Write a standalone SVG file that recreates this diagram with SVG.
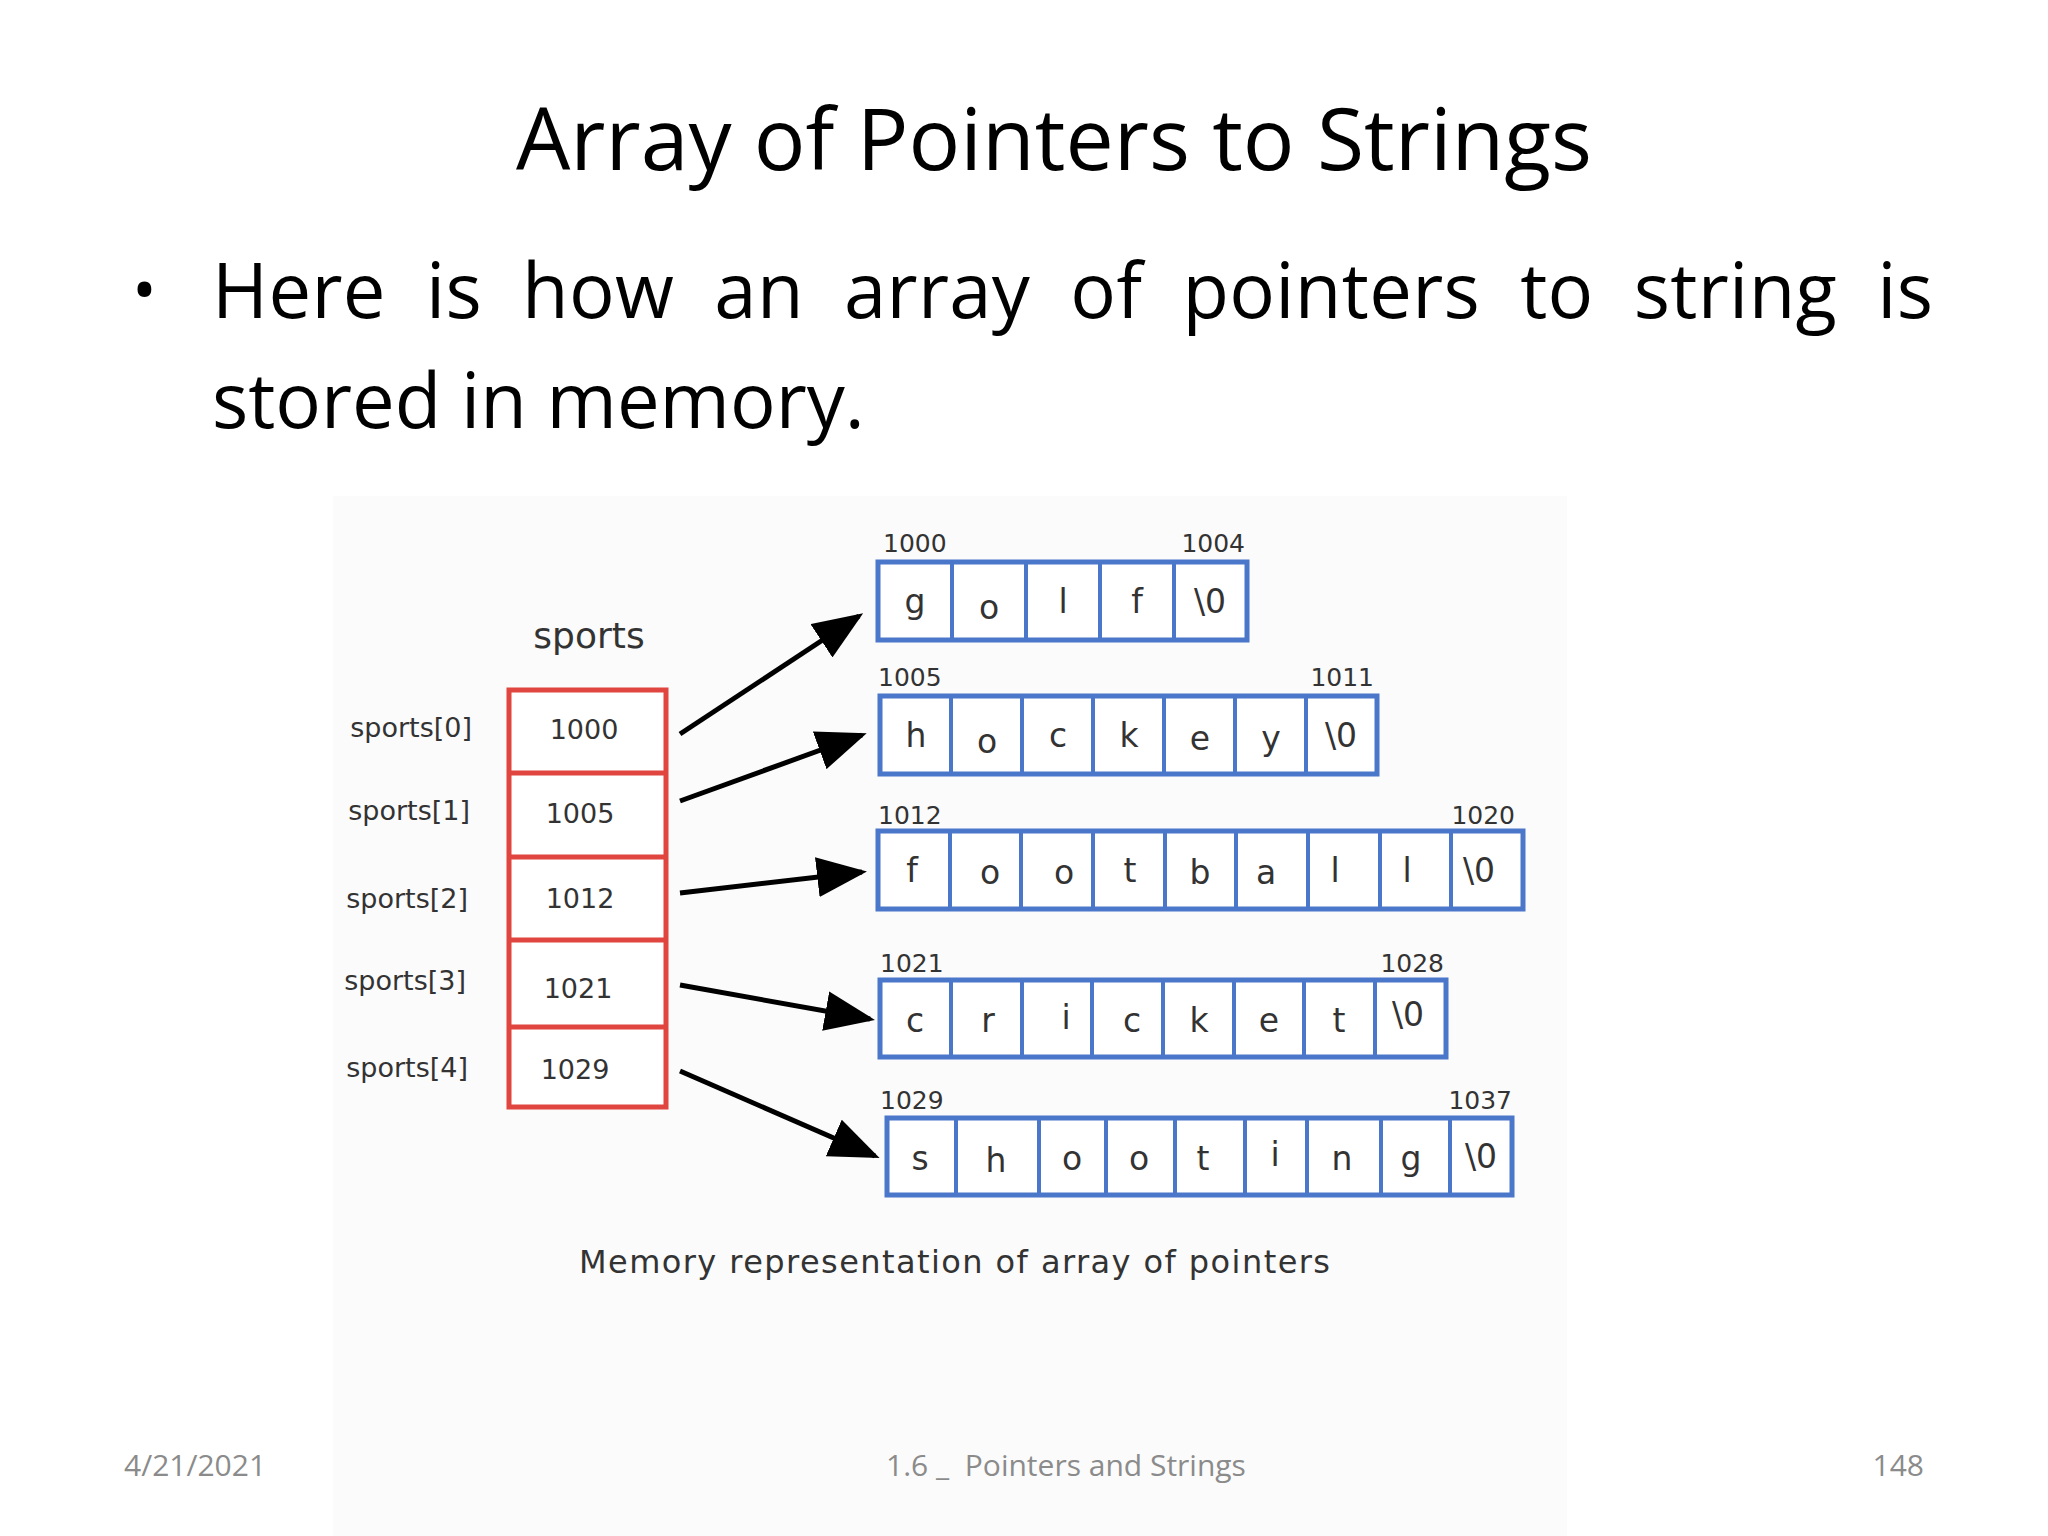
<svg xmlns="http://www.w3.org/2000/svg" width="2048" height="1536" viewBox="0 0 2048 1536">
<defs>
<marker id="ah" markerWidth="10" markerHeight="8" refX="9" refY="4" orient="auto" markerUnits="strokeWidth"><path d="M0,0 L10,4 L0,8 z" fill="#000"/></marker>
<style>
.t{font-family:"Open Sans","Liberation Sans",sans-serif;fill:#000}
.f{font-family:"Open Sans","Liberation Sans",sans-serif;fill:#8b8b8b;font-size:30px}
.d{font-family:"DejaVu Sans",sans-serif;fill:#333}
.lab{font-size:27px;text-anchor:end}
.val{font-size:27px;text-anchor:middle}
.adr{font-size:25px}
.ch{font-size:33px;text-anchor:middle}
.red{fill:#fff;stroke:#e0453f;stroke-width:5}
.blue{fill:#fff;stroke:#4a77c9;stroke-width:5}
.cl{stroke:#4a77c9;stroke-width:4}
.arr{stroke:#000;stroke-width:5;fill:none;marker-end:url(#ah)}
</style>
</defs>
<rect width="2048" height="1536" fill="#fff"/>
<rect x="333" y="496" width="1234" height="1040" fill="#fbfbfb"/>
<text class="t" x="1054" y="170" font-size="86" text-anchor="middle">Array of Pointers to Strings</text>
<text class="t" x="132" y="313" font-size="66">•</text>
<text class="t" x="212" y="318" font-size="76" textLength="1721" lengthAdjust="spacing" word-spacing="20">Here is how an array of pointers to string is</text>
<text class="t" x="212" y="428" font-size="76">stored in memory.</text>

<g id="array">
<text class="d" x="589" y="648" font-size="36" text-anchor="middle">sports</text>
<rect class="red" x="509" y="690" width="157" height="417"/>
<line x1="509" y1="773" x2="666" y2="773" stroke="#e0453f" stroke-width="5"/>
<line x1="509" y1="857" x2="666" y2="857" stroke="#e0453f" stroke-width="5"/>
<line x1="509" y1="940" x2="666" y2="940" stroke="#e0453f" stroke-width="5"/>
<line x1="509" y1="1027" x2="666" y2="1027" stroke="#e0453f" stroke-width="5"/>
<text class="d val" x="584" y="739">1000</text>
<text class="d val" x="580" y="823">1005</text>
<text class="d val" x="580" y="908">1012</text>
<text class="d val" x="578" y="998">1021</text>
<text class="d val" x="575" y="1079">1029</text>
<text class="d lab" x="472" y="737">sports[0]</text>
<text class="d lab" x="470" y="820">sports[1]</text>
<text class="d lab" x="468" y="908">sports[2]</text>
<text class="d lab" x="466" y="990">sports[3]</text>
<text class="d lab" x="468" y="1077">sports[4]</text>
</g>

<g id="golf">
<text class="d adr" x="883" y="552">1000</text><text class="d adr" x="1245" y="552" text-anchor="end">1004</text>
<rect class="blue" x="878" y="562" width="369" height="78"/>
<g class="cl"><line x1="952" y1="562" x2="952" y2="640"/><line x1="1026" y1="562" x2="1026" y2="640"/><line x1="1100" y1="562" x2="1100" y2="640"/><line x1="1174" y1="562" x2="1174" y2="640"/></g>
<g class="d ch"><text x="915" y="613">g</text><text x="989" y="619">o</text><text x="1063" y="613">l</text><text x="1137" y="613">f</text><text x="1210" y="613">\0</text></g>
</g>

<g id="hockey">
<text class="d adr" x="878" y="686">1005</text><text class="d adr" x="1374" y="686" text-anchor="end">1011</text>
<rect class="blue" x="880" y="696" width="497" height="78"/>
<g class="cl"><line x1="951" y1="696" x2="951" y2="774"/><line x1="1022" y1="696" x2="1022" y2="774"/><line x1="1093" y1="696" x2="1093" y2="774"/><line x1="1164" y1="696" x2="1164" y2="774"/><line x1="1235" y1="696" x2="1235" y2="774"/><line x1="1306" y1="696" x2="1306" y2="774"/></g>
<g class="d ch"><text x="916" y="747">h</text><text x="987" y="753">o</text><text x="1058" y="747">c</text><text x="1129" y="747">k</text><text x="1200" y="750">e</text><text x="1271" y="750">y</text><text x="1341" y="747">\0</text></g>
</g>

<g id="football">
<text class="d adr" x="878" y="824">1012</text><text class="d adr" x="1515" y="824" text-anchor="end">1020</text>
<rect class="blue" x="878" y="831" width="645" height="78"/>
<g class="cl"><line x1="950" y1="831" x2="950" y2="909"/><line x1="1021" y1="831" x2="1021" y2="909"/><line x1="1093" y1="831" x2="1093" y2="909"/><line x1="1165" y1="831" x2="1165" y2="909"/><line x1="1236" y1="831" x2="1236" y2="909"/><line x1="1308" y1="831" x2="1308" y2="909"/><line x1="1380" y1="831" x2="1380" y2="909"/><line x1="1451" y1="831" x2="1451" y2="909"/></g>
<g class="d ch"><text x="912" y="882">f</text><text x="990" y="884">o</text><text x="1064" y="884">o</text><text x="1130" y="882">t</text><text x="1200" y="884">b</text><text x="1266" y="884">a</text><text x="1335" y="882">l</text><text x="1407" y="882">l</text><text x="1479" y="882">\0</text></g>
</g>

<g id="cricket">
<text class="d adr" x="880" y="972">1021</text><text class="d adr" x="1444" y="972" text-anchor="end">1028</text>
<rect class="blue" x="880" y="980" width="566" height="77"/>
<g class="cl"><line x1="951" y1="980" x2="951" y2="1057"/><line x1="1022" y1="980" x2="1022" y2="1057"/><line x1="1092" y1="980" x2="1092" y2="1057"/><line x1="1163" y1="980" x2="1163" y2="1057"/><line x1="1234" y1="980" x2="1234" y2="1057"/><line x1="1304" y1="980" x2="1304" y2="1057"/><line x1="1375" y1="980" x2="1375" y2="1057"/></g>
<g class="d ch"><text x="915" y="1032">c</text><text x="988" y="1032">r</text><text x="1066" y="1029">i</text><text x="1132" y="1032">c</text><text x="1199" y="1032">k</text><text x="1269" y="1032">e</text><text x="1339" y="1032">t</text><text x="1408" y="1026">\0</text></g>
</g>

<g id="shooting">
<text class="d adr" x="880" y="1109">1029</text><text class="d adr" x="1512" y="1109" text-anchor="end">1037</text>
<rect class="blue" x="887" y="1118" width="625" height="77"/>
<g class="cl"><line x1="956" y1="1118" x2="956" y2="1195"/><line x1="1039" y1="1118" x2="1039" y2="1195"/><line x1="1106" y1="1118" x2="1106" y2="1195"/><line x1="1175" y1="1118" x2="1175" y2="1195"/><line x1="1245" y1="1118" x2="1245" y2="1195"/><line x1="1307" y1="1118" x2="1307" y2="1195"/><line x1="1381" y1="1118" x2="1381" y2="1195"/><line x1="1450" y1="1118" x2="1450" y2="1195"/></g>
<g class="d ch"><text x="920" y="1170">s</text><text x="996" y="1172">h</text><text x="1072" y="1170">o</text><text x="1139" y="1170">o</text><text x="1203" y="1170">t</text><text x="1275" y="1166">i</text><text x="1342" y="1170">n</text><text x="1411" y="1170">g</text><text x="1481" y="1168">\0</text></g>
</g>

<g id="connectors">
<line class="arr" x1="680" y1="734" x2="859" y2="616"/>
<line class="arr" x1="680" y1="801" x2="862" y2="735"/>
<line class="arr" x1="680" y1="893" x2="862" y2="872"/>
<line class="arr" x1="680" y1="985" x2="870" y2="1019"/>
<line class="arr" x1="680" y1="1071" x2="875" y2="1156"/>
</g>

<text class="d" x="579" y="1273" font-size="32" textLength="751">Memory representation of array of pointers</text>
<text class="f" x="124" y="1476">4/21/2021</text>
<text class="f" x="1066" y="1476" text-anchor="middle" xml:space="preserve">1.6 _  Pointers and Strings</text>
<text class="f" x="1924" y="1476" text-anchor="end">148</text>
</svg>
